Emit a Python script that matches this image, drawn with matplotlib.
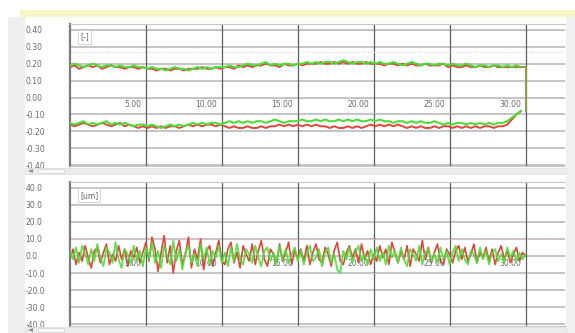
import numpy as np
import matplotlib.pyplot as plt
from matplotlib.patches import Rectangle, Polygon

# time axis [s]
t_top = np.arange(100) * 0.3
t_bot = np.arange(151) * 0.2

# position trace [-], upper and lower run
top_hi_green = [0.19, 0.20, 0.19, 0.18, 0.19, 0.20, 0.19, 0.18, 0.19, 0.19, 0.18, 0.19, 0.18, 0.18, 0.19, 0.18, 0.18,
                0.17, 0.18, 0.17, 0.17, 0.16, 0.17, 0.18, 0.17, 0.17, 0.16, 0.17, 0.18, 0.17, 0.18, 0.17, 0.18, 0.18,
                0.18, 0.19, 0.18, 0.18, 0.19, 0.20, 0.19, 0.19, 0.20, 0.21, 0.19, 0.20, 0.19, 0.20, 0.20, 0.19,
                0.20, 0.20, 0.21, 0.20, 0.21, 0.20, 0.21, 0.21, 0.20, 0.21, 0.22, 0.21, 0.20, 0.21, 0.21, 0.20, 0.21,
                0.20, 0.21, 0.20, 0.20, 0.21, 0.20, 0.19, 0.20, 0.21, 0.20, 0.19, 0.20, 0.20, 0.19, 0.20, 0.20,
                0.19, 0.20, 0.19, 0.19, 0.20, 0.19, 0.18, 0.19, 0.19, 0.18, 0.19, 0.19, 0.18, 0.19, 0.18, 0.19, 0.18]
top_hi_red = [0.18, 0.19, 0.17, 0.18, 0.19, 0.18, 0.19, 0.17, 0.18, 0.19, 0.18, 0.18, 0.17, 0.18, 0.18, 0.17, 0.18,
              0.17, 0.17, 0.16, 0.17, 0.17, 0.16, 0.17, 0.17, 0.16, 0.17, 0.17, 0.17, 0.18, 0.17, 0.17, 0.18, 0.17,
              0.18, 0.18, 0.17, 0.19, 0.18, 0.19, 0.18, 0.19, 0.19, 0.20, 0.19, 0.19, 0.18, 0.20, 0.19, 0.19,
              0.20, 0.19, 0.20, 0.20, 0.20, 0.21, 0.20, 0.20, 0.21, 0.20, 0.21, 0.20, 0.21, 0.20, 0.20, 0.21, 0.20,
              0.20, 0.20, 0.19, 0.20, 0.20, 0.19, 0.20, 0.19, 0.20, 0.19, 0.19, 0.20, 0.19, 0.19, 0.19, 0.20,
              0.18, 0.19, 0.18, 0.18, 0.19, 0.18, 0.18, 0.19, 0.18, 0.18, 0.19, 0.18, 0.18, 0.18, 0.18, 0.18, 0.18]
top_lo_green = [-0.15, -0.16, -0.15, -0.14, -0.16, -0.15, -0.16, -0.15, -0.14, -0.16, -0.15, -0.16, -0.15, -0.16, -0.17, -0.16, -0.16,
                -0.17, -0.16, -0.17, -0.18, -0.17, -0.16, -0.17, -0.16, -0.17, -0.16, -0.15, -0.16, -0.15, -0.16, -0.15, -0.15, -0.16,
                -0.15, -0.14, -0.15, -0.14, -0.15, -0.14, -0.15, -0.14, -0.14, -0.15, -0.14, -0.13, -0.14, -0.15, -0.14, -0.14,
                -0.14, -0.13, -0.14, -0.14, -0.13, -0.14, -0.13, -0.14, -0.14, -0.13, -0.14, -0.13, -0.14, -0.13, -0.14, -0.14, -0.13,
                -0.14, -0.13, -0.14, -0.14, -0.15, -0.14, -0.14, -0.15, -0.14, -0.15, -0.14, -0.15, -0.15, -0.14, -0.15, -0.16,
                -0.15, -0.16, -0.15, -0.15, -0.16, -0.15, -0.16, -0.15, -0.16, -0.15, -0.16, -0.15, -0.15, -0.14, -0.12, -0.10, -0.08]
top_lo_red = [-0.16, -0.17, -0.16, -0.15, -0.16, -0.17, -0.16, -0.15, -0.16, -0.17, -0.16, -0.15, -0.17, -0.16, -0.17, -0.18, -0.17,
              -0.18, -0.17, -0.18, -0.17, -0.18, -0.17, -0.17, -0.18, -0.17, -0.16, -0.17, -0.16, -0.17, -0.16, -0.16, -0.17, -0.16,
              -0.17, -0.18, -0.17, -0.18, -0.18, -0.17, -0.18, -0.18, -0.17, -0.18, -0.17, -0.17, -0.16, -0.17, -0.16, -0.17,
              -0.16, -0.17, -0.16, -0.17, -0.16, -0.17, -0.17, -0.18, -0.17, -0.18, -0.18, -0.17, -0.18, -0.17, -0.18, -0.17, -0.16,
              -0.17, -0.16, -0.17, -0.16, -0.17, -0.16, -0.17, -0.18, -0.17, -0.18, -0.17, -0.18, -0.18, -0.17, -0.18, -0.17,
              -0.17, -0.18, -0.17, -0.18, -0.17, -0.18, -0.17, -0.18, -0.17, -0.17, -0.18, -0.17, -0.17, -0.16, -0.13, -0.10, -0.08]
# return stroke at the end of the run
close_t = [29.7, 30.0, 30.0]
close_y = [0.18, 0.18, -0.08]

# deviation trace [um]
bot_green = [3, -2, 5, -4, 6, 1, -5, 4, -3, 7, -1, -6, 5, 2, -4, 8, -2, -7, 4, 1, -5, 6, -3, 3, -6, 5,
             -2, 8, -4, 3, -7, 6, 0, -5, 9, -3, 4, -8, 2, 6, -4, 1, -6, 7, -2, 5, -5, 3, -1, 6, -4,
             2, -6, 5, -3, 7, -2, -5, 4, 1, -4, 6, -1, -6, 3, 5, -3, 2, -5, 6, -2, 4, -4, 1, 5, -3,
             3, -5, 2, 6, -3, -1, 4, -6, 2, 5, -4, 1, -8, -10, 3, -2, 5, -4, 2, 6, -3, 1, -5, 4, -2,
             5, -3, 2, -5, 6, -1, 3, -4, 5, -2, -6, 4, 1, -3, 6, -5, 2, 4, -3, 1, -4, 5, -2, 3, -5,
             2, 6, -3, 4, -2, -5, 3, 1, -4, 5, -2, 3, -5, 2, 4, -3, 1, -4, 5, -1, 3, -3, 2, -2, 1]
bot_red = [-2, 4, -5, 2, -3, 6, -1, -7, 3, 5, -4, 2, 7, -5, 1, -3, 6, -2, 4, -6, 3, -1, 5, -4, 2, 8,
           -3, 11, 4, -9, 2, 12, -4, 6, -10, 3, 9, -5, 1, 11, -7, 4, -2, 10, -8, 3, 6, -6, 2, 9, -3,
           -5, 4, 8, -4, 2, -7, 6, 1, -3, 7, -5, 3, 9, -2, -6, 4, 1, -4, 7, -3, 2, 8, -5, 3, -1,
           4, -3, 6, -5, 2, 7, -2, -4, 5, 1, -6, 3, 8, -3, -5, 2, 6, -1, 4, -4, 7, -2, 3, -5, 1,
           -3, 6, -1, 4, -5, 8, 2, -4, 3, -2, 6, -6, 4, 1, -3, 9, -2, 5, -4, 2, 7, -3, -5, 4, 1,
           -4, 3, 6, -2, 5, -3, 1, 7, -4, 2, -1, 5, -3, 4, -5, 2, 6, -2, 3, -4, 1, 5, -3, 2, 0]

top_ticks = [0.40, 0.30, 0.20, 0.10, 0.00, -0.10, -0.20, -0.30, -0.40]
bot_ticks = [40.0, 30.0, 20.0, 10.0, 0.0, -10.0, -20.0, -30.0, -40.0]
x_ticks = [5, 10, 15, 20, 25, 30]
top_limits = [0.27, -0.09]
bot_limits = [10.0, -10.0]

GREEN = '#4fdc3a'
RED = '#e0463c'
LABEL = '#6a6a6a'

fig = plt.figure(figsize=(5.75, 3.33), dpi=100)
fig.patch.set_facecolor('white')


def fig_rect(x, y, w, h, **kw):
    # rectangle given in pixels from the top-left corner
    fig.patches.append(Rectangle((x/575, 1-(y+h)/333), w/575, h/333,
                                 transform=fig.transFigure, **kw))


# window chrome: title strip, label column, scroll bars
fig_rect(20, 10, 555, 7, facecolor='#fbf6c8', edgecolor='none')
fig_rect(8, 17, 17, 316, facecolor='#efefef', edgecolor='none')
fig_rect(566, 17, 9, 316, facecolor='#f0f0f0', edgecolor='none')
for y0 in [168, 327]:
    fig_rect(25, y0, 541, 6, facecolor='#ececec', edgecolor='#dddddd', lw=0.5)
    fig_rect(38, y0 + 1, 26, 4, facecolor='#f8f8f8', edgecolor='#d0d0d0', lw=0.5)
    fig.patches.append(Polygon([(28/575, 1-(y0+3)/333), (33/575, 1-(y0+1)/333), (33/575, 1-(y0+5)/333)],
                               closed=True, transform=fig.transFigure, facecolor='#909090', edgecolor='none'))

ax1 = fig.add_axes([70/575, 1-166/333, 495/575, 142/333])
ax2 = fig.add_axes([70/575, 1-326/333, 495/575, 144/333])


def style(ax, ticks, fmt, ylim, tag):
    ax.set_xlim(0, 32.6)
    ax.set_ylim(*ylim)
    ax.set_yticks(ticks)
    ax.set_yticklabels([fmt.format(v) for v in ticks])
    ax.set_xticks([])
    for v in ticks:
        ax.axhline(v, color='#b4b4b4', lw=1.1, zorder=0)
    for v in x_ticks:
        ax.axvline(v, color='#5c5c5c', lw=0.9, zorder=0)
    ax.tick_params(axis='y', length=0, pad=32, labelsize=5.5, labelcolor=LABEL)
    for lab in ax.get_yticklabels():
        lab.set_ha('left')
    ax.spines['right'].set_visible(False)
    ax.spines['left'].set_color('#7a7a7a')
    ax.spines['left'].set_linewidth(1.6)
    for s in ['top', 'bottom']:
        ax.spines[s].set_color('#c8c8c8')
    ax.text(0.02, 0.94, tag, transform=ax.transAxes, fontsize=5.5, color=LABEL, va='top',
            bbox=dict(boxstyle='square,pad=0.3', fc='white', ec='#cccccc', lw=0.6))


style(ax1, top_ticks, '{:.2f}', (-0.405, 0.435), '[-]')
style(ax2, bot_ticks, '{:.1f}', (-41.0, 43.3), '[um]')

for v in x_ticks:
    ax1.text(v - 0.3, -0.015, f'{v:.2f}', ha='right', va='top', fontsize=5.5, color=LABEL)
    ax2.text(v - 0.3, -1.5, f'{v:.2f}', ha='right', va='top', fontsize=5.5, color=LABEL)

# faint tolerance lines
ax1.axhline(top_limits[0], color='#f0c8d8', lw=0.8, ls=':', zorder=1)
ax1.axhline(top_limits[1], color='#c0c8f0', lw=0.8, ls=':', zorder=1)
ax2.axhline(bot_limits[0], color='#f0c0d8', lw=0.8, ls=':', zorder=1)
ax2.axhline(bot_limits[1], color='#c0d0f0', lw=0.8, ls=':', zorder=1)

ax1.plot(t_top, top_hi_red, color=RED, lw=1.4, zorder=2)
ax1.plot(t_top, top_lo_red, color=RED, lw=1.4, zorder=2)
ax1.plot(t_top, top_hi_green, color=GREEN, lw=1.5, zorder=3)
ax1.plot(t_top, top_lo_green, color=GREEN, lw=1.5, zorder=3)
ax1.plot(close_t, close_y, color='#8aa040', lw=1.4, zorder=3)

ax2.plot(t_bot, bot_red, color=RED, lw=1.2, zorder=2)
ax2.plot(t_bot, bot_green, color=GREEN, lw=1.3, zorder=3, alpha=0.9)

fig.savefig('out.png', dpi=100)
